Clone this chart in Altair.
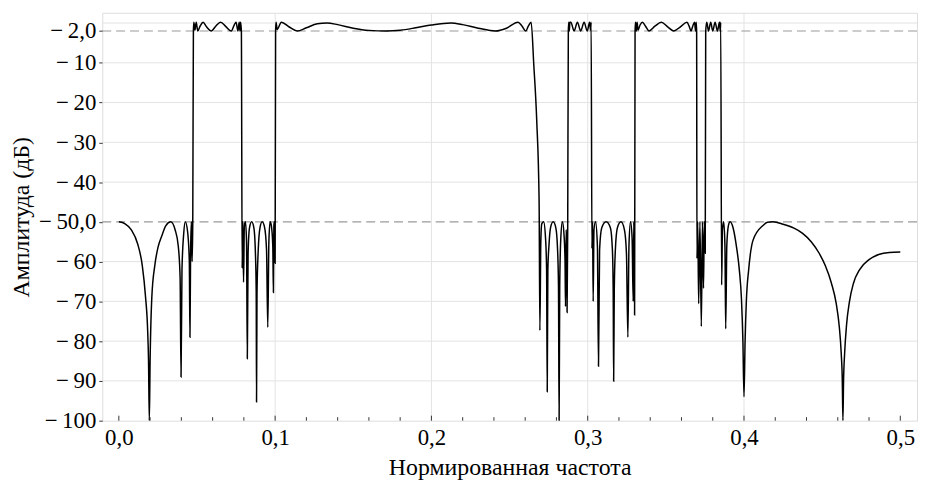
import altair as alt
import pandas as pd

# Frequency response (normalized frequency, dB)
freq = [
    0.0000, 0.0040, 0.0080, 0.0120, 0.0150, 0.0170, 0.0185, 0.0190, 0.0195, 0.0200,
    0.0211, 0.0230, 0.0250, 0.0275, 0.0300, 0.0332, 0.0360, 0.0380, 0.0392, 0.0398,
    0.0404, 0.0415, 0.0425, 0.0440, 0.0451, 0.0455, 0.0459, 0.0464, 0.0469, 0.0473,
    # passband 1
    0.0477, 0.0480, 0.0487, 0.0495, 0.0505, 0.0520, 0.0539, 0.0560, 0.0592, 0.0620,
    0.0651, 0.0685, 0.0719, 0.0738, 0.0750, 0.0762, 0.0770, 0.0775, 0.0779, 0.0784,
    # stopband 2
    0.0789, 0.0793, 0.0798, 0.0803, 0.0810, 0.0817, 0.0822, 0.0827, 0.0836, 0.0850,
    0.0864, 0.0874, 0.0879, 0.0881, 0.0884, 0.0892, 0.0903, 0.0917, 0.0933, 0.0945,
    0.0953, 0.0960, 0.0968, 0.0976, 0.0985, 0.0989, 0.0992, 0.0995, 0.1000,
    # passband 2
    0.1003, 0.1006, 0.1013, 0.1040, 0.1090, 0.1141, 0.1200, 0.1270, 0.1332, 0.1400,
    0.1500, 0.1600, 0.1712, 0.1800, 0.1900, 0.2000, 0.2124, 0.2200, 0.2300, 0.2410,
    0.2480, 0.2554, 0.2580, 0.2604, 0.2620, 0.2638, 0.2655, 0.2674, 0.2689,
    # stopband 3
    0.2694, 0.2700, 0.2706, 0.2718, 0.2730, 0.2737, 0.2741, 0.2745, 0.2752, 0.2762,
    0.2779, 0.2796, 0.2806, 0.2813, 0.2817, 0.2821, 0.2828, 0.2838, 0.2848, 0.2855,
    0.2858, 0.2862, 0.2865, 0.2868, 0.2872,
    # passband 3
    0.2876, 0.2879, 0.2882, 0.2886, 0.2892, 0.2913, 0.2934, 0.2955, 0.2977, 0.2997,
    0.3012, 0.3018, 0.3022,
    # stopband 4
    0.3027, 0.3031, 0.3035, 0.3040, 0.3050, 0.3062, 0.3069, 0.3076, 0.3090, 0.3118,
    0.3145, 0.3158, 0.3163, 0.3166, 0.3170, 0.3177, 0.3190, 0.3213, 0.3235, 0.3248,
    0.3257, 0.3264, 0.3274, 0.3284, 0.3291, 0.3295, 0.3300,
    # passband 4
    0.3303, 0.3306, 0.3311, 0.3316, 0.3322, 0.3335, 0.3350, 0.3370, 0.3392, 0.3430,
    0.3471, 0.3510, 0.3551, 0.3595, 0.3635, 0.3650, 0.3661, 0.3672, 0.3684, 0.3690,
    0.3694, 0.3697,
    # stopband 5
    0.3699, 0.3704, 0.3710, 0.3718, 0.3727, 0.3734, 0.3741, 0.3746, 0.3752,
    # passband 5
    0.3755, 0.3762, 0.3773, 0.3787, 0.3800, 0.3815, 0.3830, 0.3843, 0.3848, 0.3851,
    # stopband 6
    0.3857, 0.3862, 0.3870, 0.3878, 0.3883, 0.3890, 0.3900, 0.3911, 0.3930, 0.3952,
    0.3970, 0.3984, 0.3993, 0.4000, 0.4007, 0.4015, 0.4030, 0.4058, 0.4122, 0.4150,
    0.4185, 0.4250, 0.4320, 0.4375, 0.4430, 0.4481, 0.4520, 0.4560, 0.4590, 0.4610,
    0.4622, 0.4629, 0.4633, 0.4637, 0.4644, 0.4656, 0.4675, 0.4700, 0.4740, 0.4800,
    0.4862, 0.4930, 0.5000,
]

mag_db = [
    -50.0, -50.5, -52.0, -55.5, -61.0, -68.5, -78.0, -85.0, -100.0, -85.0,
    -69.0, -61.0, -56.5, -53.5, -51.0, -50.0, -52.0, -56.0, -64.0, -89.0,
    -62.0, -53.0, -50.0, -52.5, -60.0, -79.0, -58.0, -50.0, -60.0, -50.0,
    # passband 1
    -2.0, 0.2, -1.8, 0.2, -2.0, -0.8, 0.2, -0.9, -2.0, -0.8,
    0.2, -0.9, -2.0, -0.5, 0.2, -2.0, 0.2, -2.0, 0.2, -2.0,
    # stopband 2
    -61.7, -50.0, -65.2, -51.0, -50.0, -55.0, -84.4, -58.0, -51.5, -50.0,
    -51.5, -58.0, -68.0, -95.3, -68.0, -57.0, -51.5, -50.0, -51.5, -57.0,
    -76.5, -55.0, -50.0, -51.0, -56.0, -67.8, -51.0, -50.0, -60.4,
    # passband 2
    -2.0, 0.2, -1.6, 0.2, -1.0, -2.0, -1.2, -0.2, 0.0, -0.4,
    -1.3, -1.85, -2.0, -1.8, -1.2, -0.5, 0.0, -0.4, -1.3, -2.0,
    -1.3, 0.2, -0.8, -2.0, -0.8, 0.2, -10.5, -24.7, -44.6,
    # stopband 3
    -77.3, -55.0, -50.5, -50.0, -54.0, -62.0, -92.7, -62.0, -56.0, -51.5,
    -50.0, -51.5, -56.0, -66.0, -100.0, -66.0, -54.0, -50.0, -53.0, -60.0,
    -71.3, -52.0, -55.0, -72.8, -52.0,
    # passband 3
    -2.0, 0.2, -2.0, 0.2, 0.2, -2.0, 0.2, -2.0, 0.2, -2.0,
    0.2, -1.8, 0.2,
    # stopband 4
    -56.7, -50.0, -70.0, -52.0, -50.0, -56.0, -86.3, -57.0, -51.5, -50.0,
    -51.5, -57.0, -67.0, -90.1, -67.0, -57.0, -51.5, -50.0, -52.0, -58.0,
    -79.0, -56.0, -50.0, -54.0, -70.0, -50.0, -73.4,
    # passband 4
    -2.0, 0.2, -2.0, 0.2, -1.8, -0.5, 0.2, -0.8, -2.0, -0.8,
    0.2, -0.9, -2.0, -0.9, 0.2, -0.9, -2.0, -0.8, 0.2, -2.0,
    0.2, -2.0,
    # stopband 5
    -59.2, -50.0, -70.6, -50.0, -76.3, -50.0, -66.7, -50.0, -57.9,
    # passband 5
    -2.0, 0.2, -2.0, 0.2, -2.0, 0.2, -2.0, 0.2, -2.0, 0.2,
    # stopband 6
    -65.9, -52.0, -50.0, -56.0, -76.9, -56.0, -51.0, -50.0, -51.5, -56.3,
    -62.0, -69.6, -80.0, -94.0, -80.0, -70.0, -62.0, -54.6, -50.9, -50.1,
    -50.0, -50.6, -51.6, -52.9, -55.0, -57.9, -61.0, -65.5, -70.5, -76.5,
    -83.0, -90.0, -100.0, -90.0, -83.0, -76.0, -70.0, -65.5, -62.0, -59.5,
    -58.2, -57.7, -57.6,
]

x_major = [0.0, 0.1, 0.2, 0.3, 0.4, 0.5]
x_minor = [0.02, 0.04, 0.06, 0.08, 0.12, 0.14, 0.16, 0.18, 0.22, 0.24, 0.26, 0.28,
           0.32, 0.34, 0.36, 0.38, 0.42, 0.44, 0.46, 0.48]
x_grid = [0.1, 0.2, 0.3, 0.4]
y_grid = [0, -10, -20, -30, -40, -60, -70, -80, -90]
y_ticks = [-100, -90, -80, -70, -60, -50, -40, -30, -20, -10, -2]
ref_levels = [-2, -50]

X_DOMAIN = [-0.0106, 0.5107]
Y_DOMAIN = [-100, 2.57]
W, H = 821, 411
FONT = "Liberation Serif"

curve = pd.DataFrame({"f": freq, "db": mag_db})
xs = alt.Scale(domain=X_DOMAIN, nice=False, zero=False)
ys = alt.Scale(domain=Y_DOMAIN, nice=False, zero=False)

vgrid = alt.Chart(pd.DataFrame({"f": x_grid})).mark_rule(
    color="#e3e3e3", strokeWidth=1
).encode(x=alt.X("f:Q", scale=xs))

hgrid = alt.Chart(pd.DataFrame({"db": y_grid})).mark_rule(
    color="#e3e3e3", strokeWidth=1
).encode(y=alt.Y("db:Q", scale=ys))

refs = alt.Chart(pd.DataFrame({"db": ref_levels})).mark_rule(
    color="#9a9a9a", strokeWidth=1.2, strokeDash=[9, 5]
).encode(y=alt.Y("db:Q", scale=ys))

line = alt.Chart(curve).mark_line(
    color="black", strokeWidth=1.5, clip=True, interpolate="monotone"
).encode(
    x=alt.X(
        "f:Q", scale=xs,
        axis=alt.Axis(
            values=x_major, title="Нормированная частота",
            labelExpr="replace(format(datum.value, '.1f'), '.', ',')",
            ticks=False, domain=False, grid=False,
            labelFont=FONT, labelFontSize=23, labelColor="black", labelPadding=6,
            titleFont=FONT, titleFontSize=24, titleFontWeight="normal",
            titleColor="black", titlePadding=6,
        ),
    ),
    y=alt.Y(
        "db:Q", scale=ys,
        axis=alt.Axis(
            values=y_ticks, title="Амплитуда (дБ)",
            labelExpr="datum.value == -2 ? '−\u20092,0' : (datum.value == -50 ? '−\u200950,0' : '−\u2009' + abs(datum.value))",
            ticks=True, tickSize=3.5, tickColor="#333", domain=False, grid=False,
            labelFont=FONT, labelFontSize=23, labelColor="black", labelPadding=3,
            titleFont=FONT, titleFontSize=24, titleFontWeight="normal",
            titleColor="black", titleX=-81, titleY=H / 2,
            titleBaseline="middle", titleAlign="center", titleAngle=-90,
        ),
    ),
)

minor_ticks = alt.Chart(pd.DataFrame({"f": x_minor})).mark_rule(
    color="#333", strokeWidth=1
).encode(x=alt.X("f:Q", scale=xs), y=alt.value(H), y2=alt.value(H - 3.5))

major_ticks = alt.Chart(pd.DataFrame({"f": x_major})).mark_rule(
    color="#333", strokeWidth=1
).encode(x=alt.X("f:Q", scale=xs), y=alt.value(H), y2=alt.value(H - 5))

chart = alt.layer(vgrid, hgrid, refs, line, minor_ticks, major_ticks).properties(
    width=W, height=H,
    autosize=alt.AutoSizeParams(type="none"),
    padding={"left": 95, "top": 3, "right": 1, "bottom": 64},
).configure_view(
    stroke="#222", strokeWidth=1.2
).configure(background="white")

chart.save("out.html", embed_options={"renderer": "svg", "actions": False})
